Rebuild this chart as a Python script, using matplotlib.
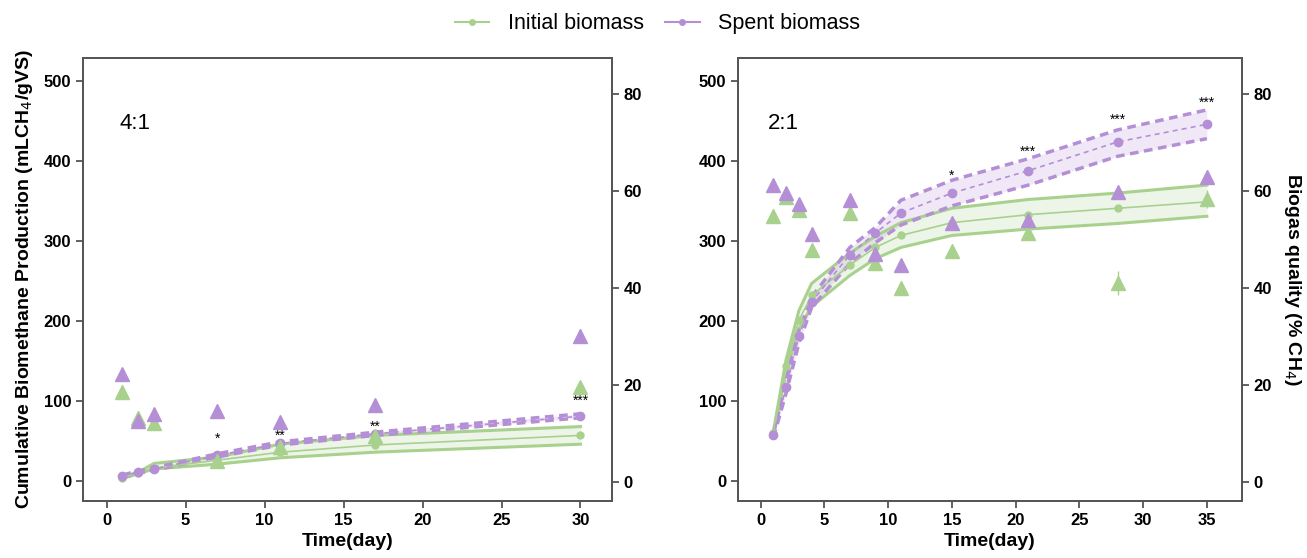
import numpy as np
import matplotlib
matplotlib.use("Agg")
import matplotlib.pyplot as plt
from matplotlib.lines import Line2D

plt.rcParams['font.family'] = ['Liberation Sans', 'DejaVu Sans']

GREEN = '#a9d18e'
PURPLE = '#b48fd6'
SPINE = '#555555'

# ---- 4:1 panel data ----
days_41 = [1, 2, 3, 7, 11, 17, 30]
init_41_mean = [4, 10, 16, 26, 36, 45, 57]
init_41_hi = [5, 11, 22, 30, 46, 57, 68]
init_41_lo = [3, 9, 15, 21, 29, 36, 46]
spent_41_mean = [6, 11, 15, 32, 47, 59, 81]
spent_41_hi = [7.5, 12.5, 16.5, 34, 49, 61, 84]
spent_41_lo = [4.5, 9.5, 13.5, 30, 45, 57, 79]
q_init_41 = [18.5, 13.1, 12.0, 4.3, 7.2, 9.5, 19.5]
q_init_41_err = [0.8, 1.5, 0.8, 0.8, 1.0, 0.8, 0.8]
q_spent_41 = [22.2, 12.5, 14.0, 14.5, 12.3, 15.7, 30.0]
q_spent_41_err = [0.8, 1.5, 1.2, 1.2, 1.2, 1.0, 1.5]
stars_41_x = [7, 11, 17, 30]
stars_41_y = [53, 57, 68, 100]
stars_41 = ['*', '**', '**', '***']

# ---- 2:1 panel data ----
days_21 = [1, 2, 3, 4, 7, 9, 11, 15, 21, 28, 35]
init_21_mean = [60, 144, 201, 232, 270, 292, 307, 323, 333, 341, 349]
init_21_hi = [62, 152, 213, 247, 285, 306, 323, 341, 352, 360, 370]
init_21_lo = [58, 136, 190, 218, 257, 278, 292, 307, 315, 322, 331]
spent_21_mean = [57, 118, 181, 224, 283, 310, 335, 360, 388, 424, 446]
spent_21_hi = [59, 125, 188, 230, 292, 317, 351, 376, 403, 439, 464]
spent_21_lo = [54, 110, 172, 217, 272, 298, 320, 344, 370, 406, 428]
q_init_21 = [54.8, 58.8, 56.0, 47.7, 55.4, 45.0, 40.0, 47.6, 51.2, 40.9, 58.3]
q_init_21_err = [0.5, 0.8, 0.8, 0.8, 0.8, 1.0, 0.5, 1.2, 1.0, 2.5, 1.8]
q_spent_21 = [61.2, 59.5, 57.2, 51.0, 58.0, 46.9, 44.6, 53.4, 53.9, 59.8, 62.8]
q_spent_21_err = [1.2, 0.8, 0.8, 1.0, 1.0, 1.2, 1.2, 1.2, 1.2, 1.0, 1.0]
stars_21_x = [15, 21, 28, 35]
stars_21_y = [382, 412, 452, 473]
stars_21 = ['*', '***', '***', '***']


def draw_panel(ax, days, im, ihi, ilo, sm, shi, slo, qi, qie, qs, qse,
               sx, sy, st, label, xlim, xticks):
    ax.fill_between(days, ilo, ihi, color=GREEN, alpha=0.2, lw=0, zorder=1)
    ax.fill_between(days, slo, shi, color=PURPLE, alpha=0.2, lw=0, zorder=1)
    ax.plot(days, ihi, color=GREEN, lw=2.2, zorder=3)
    ax.plot(days, ilo, color=GREEN, lw=2.2, zorder=3)
    ax.plot(days, im, color=GREEN, lw=1.2, marker='o', ms=5, zorder=4)
    ax.plot(days, shi, color=PURPLE, lw=2.5, ls=(0, (2.5, 1.6)), zorder=3)
    ax.plot(days, slo, color=PURPLE, lw=2.5, ls=(0, (2.5, 1.6)), zorder=3)
    ax.plot(days, sm, color=PURPLE, lw=1.2, ls=(0, (3, 2.5)), marker='o', ms=6, zorder=4)
    for x, y, s in zip(sx, sy, st):
        ax.text(x, y, s, ha='center', va='center', fontsize=10, zorder=6)
    ax.text(xlim[0] + 2.3, 447, label, fontsize=16, va='center')
    ax.set_xlim(*xlim)
    ax.set_ylim(-25, 529)
    ax.set_xticks(xticks)
    ax.set_yticks([0, 100, 200, 300, 400, 500])
    ax.set_xlabel('Time(day)', fontsize=14, fontweight='bold', labelpad=4)

    ax2 = ax.twinx()
    ax2.errorbar(days, qi, yerr=qie, fmt='^', color=GREEN, ms=10, ecolor=GREEN,
                 elinewidth=1, capsize=0, zorder=5)
    ax2.errorbar(days, qs, yerr=qse, fmt='^', color=PURPLE, ms=10, ecolor=PURPLE,
                 elinewidth=1, capsize=0, zorder=5)
    ax2.set_ylim(-4, 87.4)
    ax2.set_yticks([0, 20, 40, 60, 80])
    for a in (ax, ax2):
        for sp in a.spines.values():
            sp.set_color(SPINE)
            sp.set_linewidth(1.3)
        a.tick_params(direction='out', length=5, width=1.3, color=SPINE,
                      labelsize=12)
        for t in a.get_xticklabels() + a.get_yticklabels():
            t.set_fontweight('bold')
    return ax2


fig = plt.figure(figsize=(13.07, 5.58), dpi=100)
axL = fig.add_axes([0.0635, 0.1022, 0.4048, 0.794])
axR = fig.add_axes([0.5647, 0.1022, 0.3856, 0.794])

draw_panel(axL, days_41, init_41_mean, init_41_hi, init_41_lo,
           spent_41_mean, spent_41_hi, spent_41_lo,
           q_init_41, q_init_41_err, q_spent_41, q_spent_41_err,
           stars_41_x, stars_41_y, stars_41, '4:1', (-1.5, 32), [0, 5, 10, 15, 20, 25, 30])
axR2 = draw_panel(axR, days_21, init_21_mean, init_21_hi, init_21_lo,
                  spent_21_mean, spent_21_hi, spent_21_lo,
                  q_init_21, q_init_21_err, q_spent_21, q_spent_21_err,
                  stars_21_x, stars_21_y, stars_21, '2:1', (-1.77, 37.76),
                  [0, 5, 10, 15, 20, 25, 30, 35])

axL.set_ylabel('Cumulative Biomethane Production (mLCH$_4$/gVS)', fontsize=14,
               fontweight='bold', labelpad=6)
axR2.set_ylabel('Biogas quality (% CH$_4$)', fontsize=14, fontweight='bold',
                rotation=270, labelpad=22)

handles = [Line2D([], [], color=GREEN, lw=1.5, marker='o', ms=4),
           Line2D([], [], color=PURPLE, lw=1.5, marker='o', ms=4)]
fig.legend(handles, ['Initial biomass', 'Spent biomass'], loc='center',
           bbox_to_anchor=(0.503, 0.957), ncol=2, frameon=False, fontsize=15.5,
           handlelength=1.6, handletextpad=0.85, columnspacing=1.0)

fig.savefig('out.png', dpi=100)
